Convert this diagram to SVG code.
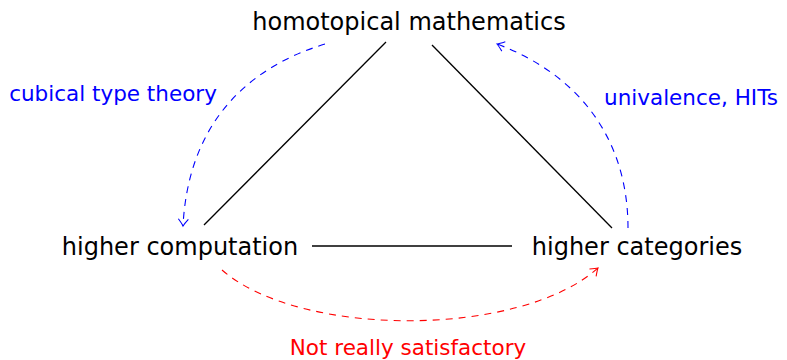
<svg xmlns="http://www.w3.org/2000/svg" width="787" height="360" viewBox="0 0 787 360">
<style>
.node{font-family:"DejaVu Sans","Open Sans",sans-serif;font-size:24px;fill:#000;text-anchor:middle}
.lbl{font-family:"DejaVu Sans","Open Sans",sans-serif;font-size:21.5px;text-anchor:middle}
.edge{stroke:#000;stroke-width:1.3;fill:none}
.dash{stroke-width:1.1;fill:none;stroke-dasharray:7 6}
</style>
<defs>
<marker id="ab" viewBox="-8 -6 10 12" refX="0" refY="0" markerWidth="10" markerHeight="12" markerUnits="userSpaceOnUse" orient="auto">
<path d="M-7,-5 Q-2,-1 0,0 Q-2,1 -7,5" fill="none" stroke="#0000ff" stroke-width="1.1"/>
</marker>
<marker id="ar" viewBox="-8 -6 10 12" refX="0" refY="0" markerWidth="10" markerHeight="12" markerUnits="userSpaceOnUse" orient="auto">
<path d="M-7,-5 Q-2,-1 0,0 Q-2,1 -7,5" fill="none" stroke="#ff0000" stroke-width="1.1"/>
</marker>
</defs>
<g id="connectors">
<line class="edge" x1="386" y1="42" x2="204" y2="225"/>
<line class="edge" x1="432" y1="45" x2="612" y2="228"/>
<line class="edge" x1="312" y1="246" x2="512" y2="246"/>
<path class="dash" stroke="#0000ff" d="M325,44 C240,70 188,130 183,226" marker-end="url(#ab)"/>
<path class="dash" stroke="#0000ff" d="M628,228 C628,140 580,75 497,44" marker-end="url(#ab)"/>
<path class="dash" stroke="#ff0000" d="M222,270 C300,338 520,338 598,268" marker-end="url(#ar)"/>
</g>
<g id="n-hm"><text class="node" x="409" y="30">homotopical mathematics</text></g>
<g id="n-hc"><text class="node" x="180" y="255">higher computation</text></g>
<g id="n-hcat"><text class="node" x="637" y="255">higher categories</text></g>
<g id="l-ctt"><text class="lbl" x="113" y="101" fill="#0000ff">cubical type theory</text></g>
<g id="l-uh"><text class="lbl" x="691" y="105" fill="#0000ff">univalence, HITs</text></g>
<g id="l-nrs"><text class="lbl" x="408" y="355" fill="#ff0000">Not really satisfactory</text></g>
</svg>
